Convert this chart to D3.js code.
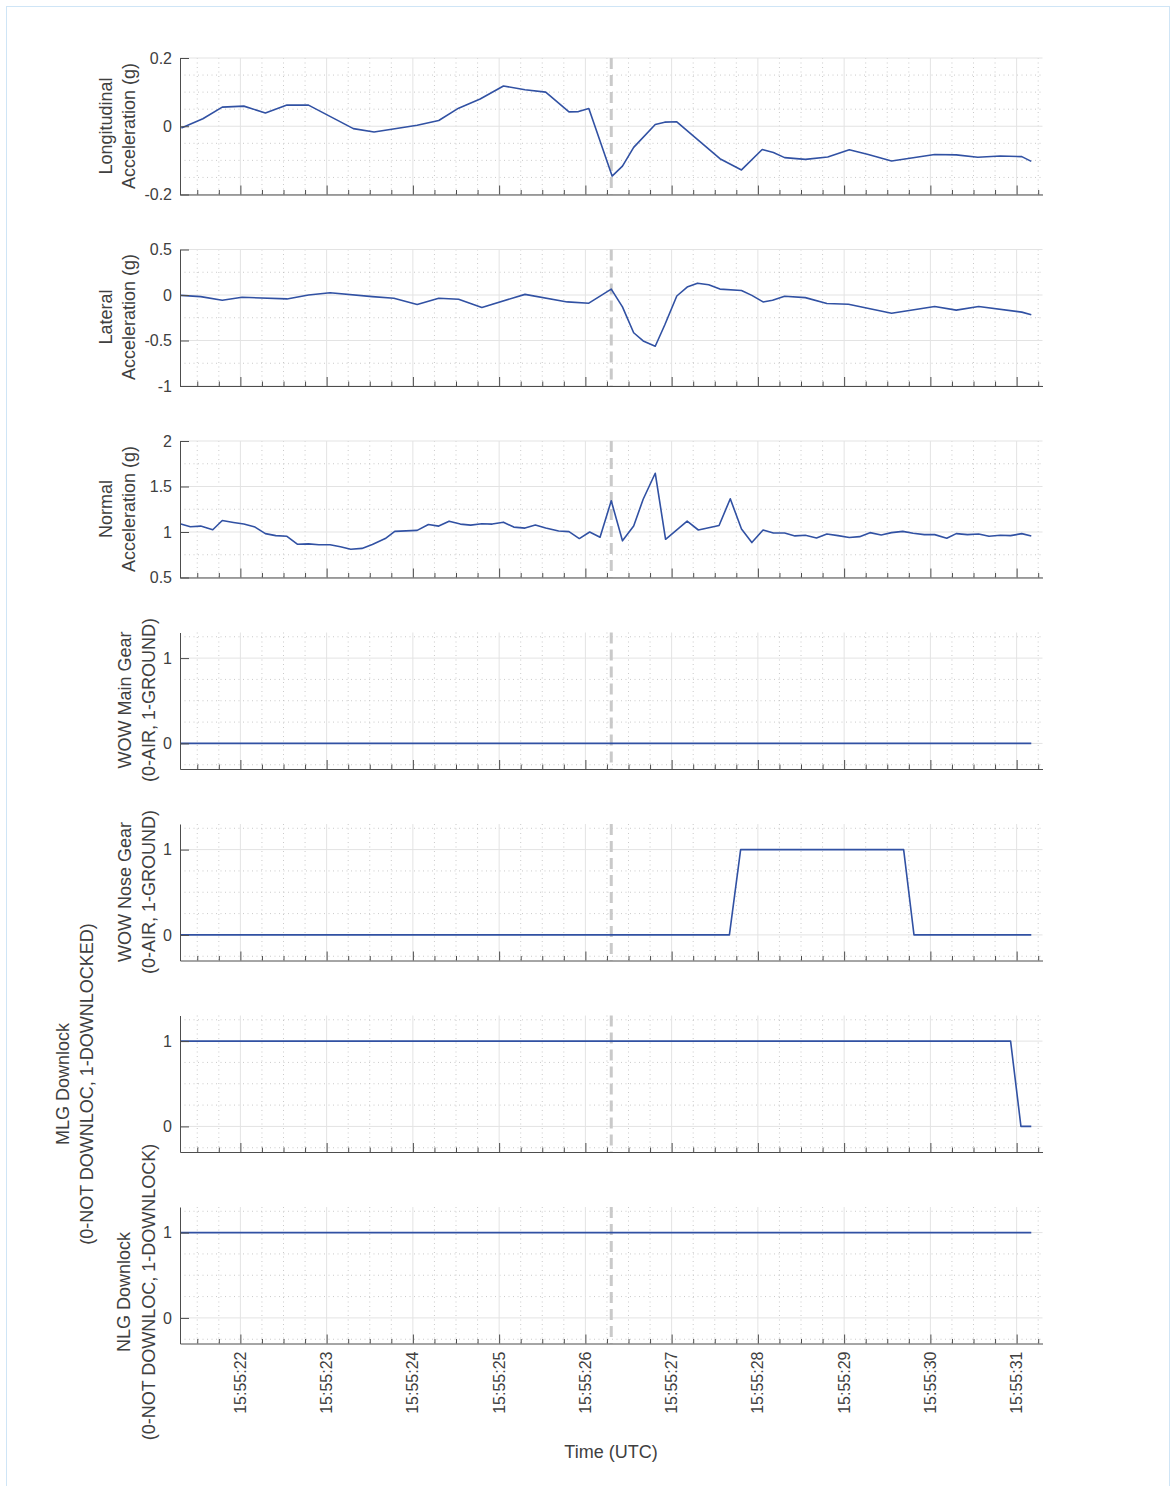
<!DOCTYPE html>
<html>
<head>
<meta charset="utf-8">
<script src="https://cdn.jsdelivr.net/npm/d3@7"></script>
<style>
  html, body { margin: 0; padding: 0; background: #ffffff; }
  svg { display: block; font-family: "Liberation Sans", Arial, Helvetica, sans-serif; }
</style>
</head>
<body>
<svg id="chart" width="1176" height="1486"></svg>
<script>
// ---------- DATA (time in seconds after 15:55:00 UTC) ----------
const longT = [21.316, 21.565, 21.79, 22.04, 22.29, 22.54, 22.79, 23.31, 23.55, 24.05, 24.30, 24.53, 24.78, 25.05, 25.30, 25.54, 25.81, 25.92, 26.04, 26.31, 26.43, 26.56, 26.81, 26.92, 27.06, 27.56, 27.81, 28.05, 28.18, 28.31, 28.55, 28.81, 29.06, 29.28, 29.55, 30.05, 30.30, 30.55, 30.81, 31.06, 31.17];
const longV = [-0.005, 0.022, 0.056, 0.059, 0.039, 0.062, 0.062, -0.007, -0.017, 0.003, 0.017, 0.053, 0.080, 0.118, 0.107, 0.100, 0.042, 0.043, 0.052, -0.146, -0.117, -0.062, 0.005, 0.012, 0.013, -0.095, -0.128, -0.068, -0.077, -0.092, -0.097, -0.090, -0.069, -0.083, -0.102, -0.083, -0.084, -0.091, -0.087, -0.089, -0.103];

const latT = [21.31, 21.54, 21.79, 22.02, 22.54, 22.79, 23.04, 23.53, 23.78, 24.05, 24.30, 24.53, 24.80, 25.30, 25.79, 26.04, 26.30, 26.43, 26.56, 26.67, 26.81, 26.92, 27.06, 27.18, 27.30, 27.43, 27.56, 27.81, 27.93, 28.06, 28.17, 28.31, 28.55, 28.80, 29.05, 29.55, 30.05, 30.30, 30.56, 31.06, 31.17];
const latV = [-0.004, -0.018, -0.058, -0.025, -0.043, 0.0, 0.025, -0.018, -0.036, -0.104, -0.036, -0.047, -0.137, 0.007, -0.076, -0.09, 0.065, -0.13, -0.415, -0.505, -0.563, -0.33, -0.011, 0.087, 0.13, 0.112, 0.065, 0.05, -0.004, -0.076, -0.058, -0.014, -0.029, -0.094, -0.101, -0.20, -0.126, -0.166, -0.126, -0.188, -0.217];

const normT = [21.31, 21.42, 21.54, 21.68, 21.79, 21.92, 22.04, 22.17, 22.29, 22.41, 22.54, 22.66, 22.79, 22.91, 23.04, 23.16, 23.28, 23.41, 23.53, 23.68, 23.79, 24.05, 24.18, 24.30, 24.42, 24.55, 24.67, 24.80, 24.92, 25.05, 25.17, 25.30, 25.42, 25.54, 25.69, 25.81, 25.93, 26.05, 26.17, 26.30, 26.43, 26.56, 26.67, 26.81, 26.93, 27.18, 27.31, 27.55, 27.68, 27.81, 27.93, 28.06, 28.18, 28.31, 28.43, 28.55, 28.68, 28.80, 28.93, 29.06, 29.18, 29.30, 29.43, 29.55, 29.68, 29.80, 29.93, 30.05, 30.19, 30.30, 30.43, 30.56, 30.68, 30.81, 30.93, 31.06, 31.17];
const normV = [1.087, 1.058, 1.065, 1.025, 1.126, 1.105, 1.087, 1.054, 0.982, 0.96, 0.953, 0.866, 0.87, 0.86, 0.86, 0.838, 0.81, 0.82, 0.863, 0.928, 1.007, 1.018, 1.083, 1.065, 1.119, 1.087, 1.076, 1.09, 1.087, 1.108, 1.054, 1.043, 1.076, 1.043, 1.011, 1.004, 0.928, 1.0, 0.942, 1.343, 0.903, 1.065, 1.36, 1.646, 0.92, 1.119, 1.022, 1.072, 1.365, 1.032, 0.884, 1.022, 0.989, 0.989, 0.957, 0.964, 0.935, 0.978, 0.96, 0.939, 0.949, 0.993, 0.968, 0.993, 1.007, 0.986, 0.971, 0.971, 0.931, 0.982, 0.971, 0.978, 0.953, 0.964, 0.96, 0.982, 0.957];

const wowMainT = [21.31, 31.17];
const wowMainV = [0, 0];
const wowNoseT = [21.31, 27.67, 27.80, 29.69, 29.81, 31.17];
const wowNoseV = [0, 0, 1, 1, 0, 0];
const mlgT = [21.31, 30.93, 31.05, 31.17];
const mlgV = [1, 1, 0, 0];
const nlgT = [21.31, 31.17];
const nlgV = [1, 1];

const eventTime = 26.30;   // dashed marker

const timeDomain = [21.30, 31.30];
const timeTickValues = [22, 23, 24, 25, 26, 27, 28, 29, 30, 31];
const timeTickLabels = ["15:55:22", "15:55:23", "15:55:24", "15:55:25", "15:55:26", "15:55:27", "15:55:28", "15:55:29", "15:55:30", "15:55:31"];

const yDomains = [[-0.2, 0.2], [-1, 0.5], [0.5, 2], [-0.3, 1.3], [-0.3, 1.3], [-0.3, 1.3], [-0.3, 1.3]];
const yTicks = [[-0.2, 0, 0.2], [-1, -0.5, 0, 0.5], [0.5, 1, 1.5, 2], [0, 1], [0, 1], [0, 1], [0, 1]];
const yTickLabels = [["-0.2", "0", "0.2"], ["-1", "-0.5", "0", "0.5"], ["0.5", "1", "1.5", "2"], ["0", "1"], ["0", "1"], ["0", "1"], ["0", "1"]];
const yMinorStep = [0.05, 0.25, 0.25, 0.25, 0.25, 0.25, 0.25];
const yLabels = [
  ["Longitudinal", "Acceleration (g)"],
  ["Lateral", "Acceleration (g)"],
  ["Normal", "Acceleration (g)"],
  ["WOW Main Gear", "(0-AIR, 1-GROUND)"],
  ["WOW Nose Gear", "(0-AIR, 1-GROUND)"],
  ["MLG Downlock", "(0-NOT DOWNLOC, 1-DOWNLOCKED)"],
  ["NLG Downlock", "(0-NOT DOWNLOC, 1-DOWNLOCK)"]
];
const xLabel = "Time (UTC)";

const seriesT = [longT, latT, normT, wowMainT, wowNoseT, mlgT, nlgT];
const seriesV = [longV, latV, normV, wowMainV, wowNoseV, mlgV, nlgV];

// ---------- LAYOUT ----------
const plotLeft = 180, plotWidth = 862.5;
const panelTop0 = 58, panelStep = 191.5, panelH = 136.5;
const labelX = [[112, 135], [112, 135], [112, 135], [131, 155], [131, 155], [69, 93], [130, 155]];
const labelCY = [126, 317, 509, 700, 892, 1084, 1292];

const TEXT = "#404040", AXIS = "#4d4d4d", LINE = "#3151a3";

const svg = d3.select("#chart");
svg.append("rect").attr("x", 6.5).attr("y", 6.5).attr("width", 1163).attr("height", 1490)
  .attr("fill", "#fff").attr("stroke", "#cfe5f6").attr("stroke-width", 1);

const x = d3.scaleLinear().domain(timeDomain).range([plotLeft, plotLeft + plotWidth]);
const minorX = d3.range(21.5, 31.3, 0.25).filter(t => Math.abs(t - Math.round(t)) > 1e-6);

for (let i = 0; i < 7; i++) {
  const top = panelTop0 + i * panelStep, bottom = top + panelH;
  const y = d3.scaleLinear().domain(yDomains[i]).range([bottom, top]);
  const g = svg.append("g");

  // minor grid (dotted)
  const [y0, y1] = yDomains[i];
  const minorY = [];
  for (let v = Math.ceil(y0 / yMinorStep[i] - 1e-9) * yMinorStep[i]; v <= y1 + 1e-9; v += yMinorStep[i]) {
    const r = +v.toFixed(6);
    if (!yTicks[i].some(t => Math.abs(t - r) < 1e-6)) minorY.push(r);
  }
  g.selectAll(".mgy").data(minorY).enter().append("line")
    .attr("x1", plotLeft).attr("x2", plotLeft + plotWidth)
    .attr("y1", d => y(d)).attr("y2", d => y(d))
    .attr("stroke", "#bdbdbd").attr("stroke-width", 0.8).attr("stroke-dasharray", "1,3.5");
  g.selectAll(".mgx").data(minorX).enter().append("line")
    .attr("x1", d => x(d)).attr("x2", d => x(d))
    .attr("y1", top).attr("y2", bottom)
    .attr("stroke", "#bdbdbd").attr("stroke-width", 0.8).attr("stroke-dasharray", "1,3.5");

  // major grid
  g.selectAll(".Gy").data(yTicks[i]).enter().append("line")
    .attr("x1", plotLeft).attr("x2", plotLeft + plotWidth)
    .attr("y1", d => y(d)).attr("y2", d => y(d))
    .attr("stroke", "#e3e3e3").attr("stroke-width", 1);
  g.selectAll(".Gx").data(timeTickValues).enter().append("line")
    .attr("x1", d => x(d)).attr("x2", d => x(d))
    .attr("y1", top).attr("y2", bottom)
    .attr("stroke", "#e3e3e3").attr("stroke-width", 1);

  // event marker
  g.append("line").attr("x1", x(eventTime)).attr("x2", x(eventTime))
    .attr("y1", top).attr("y2", bottom)
    .attr("stroke", "#c9c9c9").attr("stroke-width", 3).attr("stroke-dasharray", "11,6");

  // data line
  const pts = seriesT[i].map((t, k) => [t, seriesV[i][k]]);
  g.append("path").datum(pts)
    .attr("d", d3.line().x(d => x(d[0])).y(d => y(d[1])))
    .attr("fill", "none").attr("stroke", LINE).attr("stroke-width", 1.6)
    .attr("stroke-linejoin", "round");

  // y axis
  const ya = g.append("g").attr("transform", `translate(${plotLeft},0)`)
    .call(d3.axisLeft(y).tickValues(yTicks[i]).tickSizeInner(-9).tickSizeOuter(0).tickPadding(8)
      .tickFormat((d, k) => yTickLabels[i][k]));
  ya.select(".domain").attr("stroke", AXIS);
  ya.selectAll(".tick line").attr("stroke", AXIS);
  ya.selectAll("text").attr("fill", TEXT).style("font-size", "16px")
    .style("font-family", "'Liberation Sans', Arial, sans-serif");

  // x axis (major + minor ticks, no labels)
  const xaMinor = g.append("g").attr("transform", `translate(0,${bottom})`)
    .call(d3.axisBottom(x).tickValues(minorX).tickSizeInner(-4.5).tickSizeOuter(0).tickFormat(""));
  xaMinor.select(".domain").remove();
  xaMinor.selectAll(".tick line").attr("stroke", AXIS);
  const xa = g.append("g").attr("transform", `translate(0,${bottom})`)
    .call(d3.axisBottom(x).tickValues(timeTickValues).tickSizeInner(-9).tickSizeOuter(0).tickFormat(""));
  xa.select(".domain").attr("stroke", AXIS);
  xa.selectAll(".tick line").attr("stroke", AXIS);

  // y labels
  yLabels[i].forEach((txt, k) => {
    svg.append("text")
      .attr("transform", `translate(${labelX[i][k]},${labelCY[i]}) rotate(-90)`)
      .attr("text-anchor", "middle").attr("fill", TEXT)
      .style("font-size", "18px").text(txt);
  });

  // time tick labels on last panel
  if (i === 6) {
    g.selectAll(".tl").data(timeTickValues).enter().append("text")
      .attr("transform", d => `translate(${x(d)},${bottom + 8}) rotate(-90)`)
      .attr("text-anchor", "end").attr("dy", "0.35em").attr("fill", TEXT)
      .style("font-size", "16px")
      .text((d, k) => timeTickLabels[k]);
  }
}

svg.append("text").attr("x", 611).attr("y", 1458).attr("text-anchor", "middle")
  .attr("fill", TEXT).style("font-size", "18px").text(xLabel);
</script>
</body>
</html>
